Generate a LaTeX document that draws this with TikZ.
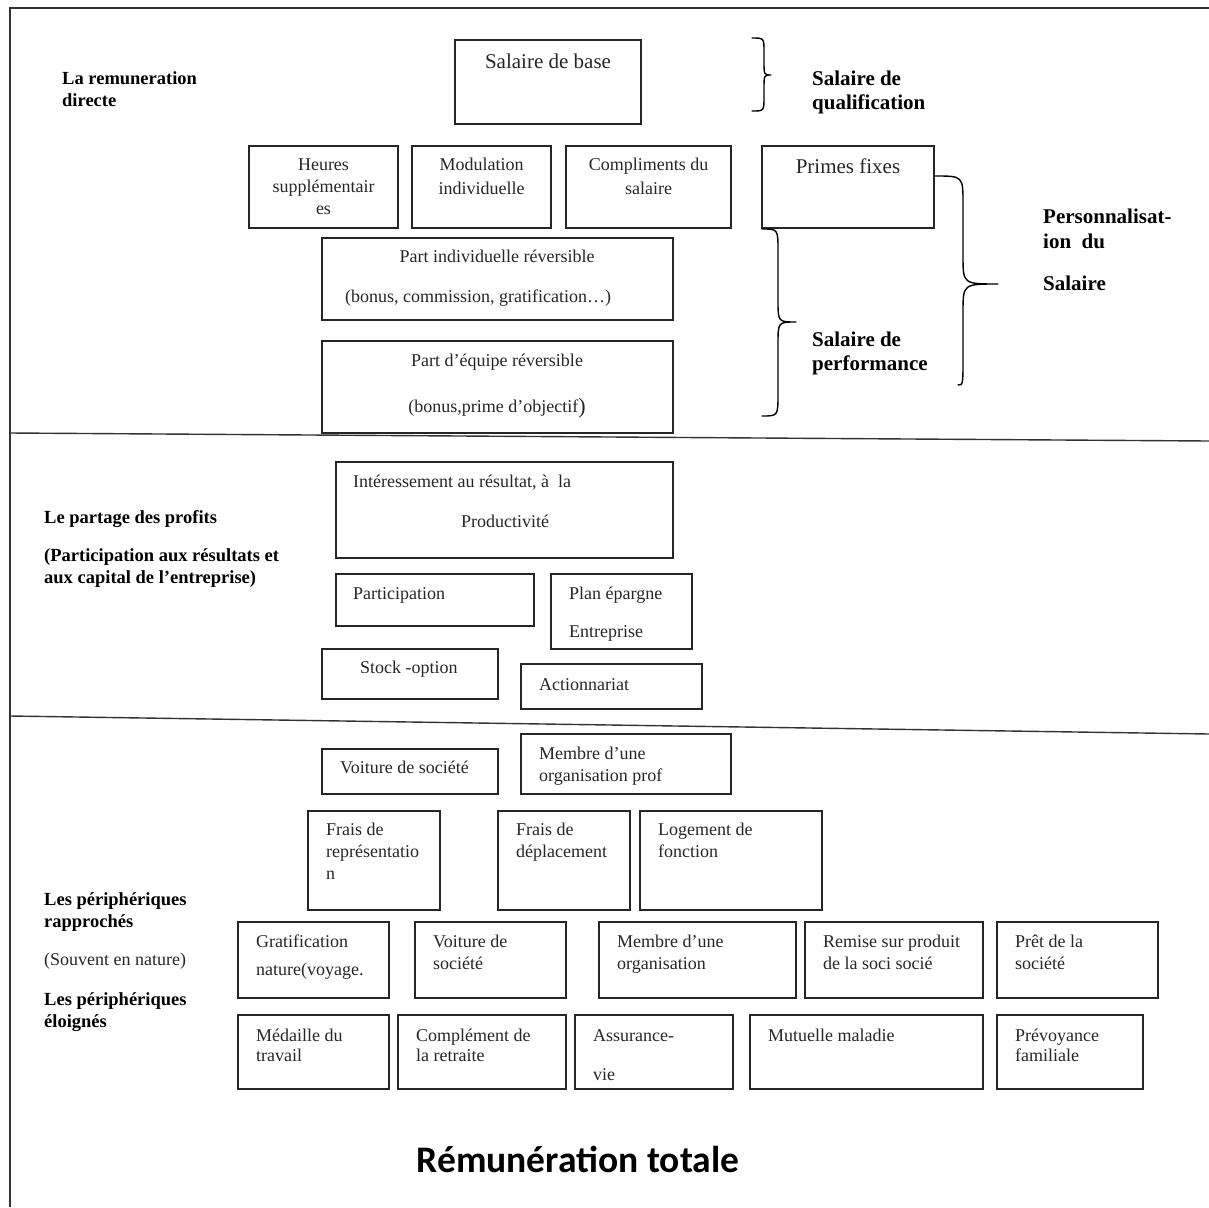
\documentclass[tikz,border=0pt]{standalone}
\usepackage{fontspec}
\setmainfont{Liberation Serif}
\newfontfamily\titlefont{Carlito}
\usetikzlibrary{fit}

% rectangle box from corner (#2,#3) to corner (#4,#5)
\newcommand\bx[5]{\node[box, fit={(#2,#3) (#4,#5)}] (#1) {};}
% one line of text, left aligned at (#3,#4)
\newcommand\tw[5]{\node[#1, anchor=mid west] (#2) at (#3,#4) {#5};}
% one line of text, centred at (#3,#4)
\newcommand\tc[5]{\node[#1, anchor=mid] (#2) at (#3,#4) {#5};}
% curly brace: top (#1,#2), spine x #3, corner radius #4, tip (#5,#6), bottom (#8,#7)
\newcommand\curly[8]{%
  \draw[brace] (#1,#2) .. controls (#3,#2) .. (#3,{#2+#4}) -- (#3,{#6-#4})
    .. controls (#3,#6) .. (#5,#6) .. controls (#3,#6) .. (#3,{#6+#4})
    -- (#3,{#7-#4}) .. controls (#3,#7) .. (#8,#7);}

\begin{document}
\begin{tikzpicture}[x=1pt,y=-1pt,
  frame/.style={line width=1.4pt, draw=black!80},
  box/.style={draw=black!85, line width=1.6pt, inner sep=0pt},
  words/.style={inner sep=0pt, yshift=-4pt},
  txt/.style={words, font=\fontsize{18}{21}\selectfont, text=black!85},
  big/.style={words, font=\fontsize{21}{24}\selectfont, text=black!85},
  lbl/.style={words, font=\bfseries\fontsize{18.5}{22}\selectfont},
  rlbl/.style={words, font=\bfseries\fontsize{21}{24}\selectfont},
  brace/.style={line width=1.4pt, line join=round, line cap=round}]

\useasboundingbox (0,0) rectangle (1209,1207);

% outer frame and section separators
\draw[frame] (1209,8) -- (10,8) -- (10,1207);
\draw[frame] (10,433) -- (1209,441);
\draw[frame] (10,716) -- (1209,734);

% ---------- direct pay ----------
\tw{lbl}{dir1}{62}{78}{La remuneration}
\tw{lbl}{dir2}{62}{100}{directe}

\bx{base}{455}{40}{641}{124}
\tc{big}{base-t}{548}{62}{Salaire de base}

\bx{heures}{249}{146}{398}{228}
\tc{txt}{heures-1}{323.5}{164}{Heures}
\tc{txt}{heures-2}{323.5}{186}{supplémentair}
\tc{txt}{heures-3}{323.5}{208}{es}

\bx{modul}{412}{146}{551}{228}
\tc{txt}{modul-1}{481.5}{164}{Modulation}
\tc{txt}{modul-2}{481.5}{188}{individuelle}

\bx{compl}{566}{146}{731}{228}
\tc{txt}{compl-1}{648.5}{164}{Compliments du}
\tc{txt}{compl-2}{648.5}{188}{salaire}

\bx{primes}{762}{146}{934}{228}
\tc{big}{primes-t}{848}{167}{Primes fixes}

\bx{partind}{322}{238}{673}{320}
\tc{txt}{partind-1}{497}{256}{Part individuelle réversible}
\tc{txt}{partind-2}{478}{296}{(bonus, commission, gratification…)}

\bx{partequ}{322}{341}{673}{433}
\tc{txt}{partequ-1}{497}{360}{Part d’équipe réversible}
\tc{txt}{partequ-2}{497}{406}{(bonus,prime d’objectif\raisebox{-1pt}{\fontsize{22}{22}\selectfont)}}

% braces and their labels
\curly{752}{38}{764}{14}{771}{75}{111}{752}
\tw{rlbl}{qual1}{812}{79}{Salaire de}
\tw{rlbl}{qual2}{812}{103}{qualification}

\curly{762}{229}{778}{22}{796}{322}{416}{762}
\tw{rlbl}{perf1}{812}{340}{Salaire de}
\tw{rlbl}{perf2}{812}{364}{performance}

\curly{935}{176}{963}{28}{998}{284}{385}{958}
\tw{rlbl}{pers1}{1043}{217}{Personnalisat-}
\tw{rlbl}{pers2}{1043}{242}{ion\ \ du}
\tw{rlbl}{pers3}{1043}{284}{Salaire}

% ---------- profit sharing ----------
\tw{lbl}{prof1}{44}{517}{Le partage des profits}
\tw{lbl}{prof2}{44}{555}{(Participation aux résultats et}
\tw{lbl}{prof3}{44}{577}{aux capital de l’entreprise)}

\bx{inter}{336}{462}{673}{558}
\tw{txt}{inter-1}{353}{481}{Intéressement au résultat, à\ \ la}
\tc{txt}{inter-2}{505}{521}{Productivité}

\bx{partic}{336}{574}{534}{626}
\tw{txt}{partic-t}{353}{593}{Participation}

\bx{plan}{551}{574}{692}{649}
\tw{txt}{plan-1}{569}{593}{Plan épargne}
\tw{txt}{plan-2}{569}{631}{Entreprise}

\bx{stock}{322}{649}{498}{699}
\tw{txt}{stock-t}{360}{667}{Stock -option}

\bx{action}{521}{664}{702}{709}
\tw{txt}{action-t}{539}{684}{Actionnariat}

% ---------- peripheral pay ----------
\tw{lbl}{peri1}{44}{899}{Les périphériques}
\tw{lbl}{peri2}{44}{921}{rapprochés}
\tw{txt}{peri3}{44}{959}{(Souvent en nature)}
\tw{lbl}{peri4}{44}{999}{Les périphériques}
\tw{lbl}{peri5}{44}{1021}{éloignés}

\bx{voit1}{322}{749}{498}{794}
\tw{txt}{voit1-t}{340}{767}{Voiture de société}

\bx{memb1}{521}{734}{731}{794}
\tw{txt}{memb1-1}{539}{753}{Membre d’une}
\tw{txt}{memb1-2}{539}{775}{organisation prof}

\bx{fraisrep}{308}{811}{440}{910}
\tw{txt}{fraisrep-1}{326}{829}{Frais de}
\tw{txt}{fraisrep-2}{326}{851}{représentatio}
\tw{txt}{fraisrep-3}{326}{873}{n}

\bx{fraisdep}{498}{811}{630}{910}
\tw{txt}{fraisdep-1}{516}{829}{Frais de}
\tw{txt}{fraisdep-2}{516}{851}{déplacement}

\bx{logement}{640}{811}{822}{910}
\tw{txt}{logement-1}{658}{829}{Logement de}
\tw{txt}{logement-2}{658}{851}{fonction}

\bx{grat}{238}{922}{389}{998}
\tw{txt}{grat-1}{256}{941}{Gratification}
\tw{txt}{grat-2}{256}{969}{nature(voyage.}

\bx{voit2}{415}{922}{566}{998}
\tw{txt}{voit2-1}{433}{941}{Voiture de}
\tw{txt}{voit2-2}{433}{963}{société}

\bx{memb2}{599}{922}{796}{998}
\tw{txt}{memb2-1}{617}{941}{Membre d’une}
\tw{txt}{memb2-2}{617}{963}{organisation}

\bx{remise}{805}{922}{983}{998}
\tw{txt}{remise-1}{823}{941}{Remise sur produit}
\tw{txt}{remise-2}{823}{963}{de la soci socié}

\bx{pret}{997}{922}{1158}{998}
\tw{txt}{pret-1}{1015}{941}{Prêt de la}
\tw{txt}{pret-2}{1015}{963}{société}

\bx{medaille}{238}{1015}{389}{1089}
\tw{txt}{medaille-1}{256}{1035}{Médaille du}
\tw{txt}{medaille-2}{256}{1055}{travail}

\bx{complret}{398}{1015}{566}{1089}
\tw{txt}{complret-1}{416}{1035}{Complément de}
\tw{txt}{complret-2}{416}{1055}{la retraite}

\bx{assur}{575}{1015}{733}{1089}
\tw{txt}{assur-1}{593}{1035}{Assurance-}
\tw{txt}{assur-2}{593}{1074}{vie}

\bx{mutuelle}{750}{1015}{983}{1089}
\tw{txt}{mutuelle-t}{768}{1035}{Mutuelle maladie}

\bx{prev}{997}{1015}{1143}{1089}
\tw{txt}{prev-1}{1015}{1035}{Prévoyance}
\tw{txt}{prev-2}{1015}{1055}{familiale}

% title
\node[inner sep=0pt, anchor=mid, font=\titlefont\bfseries\fontsize{37.5}{42}\selectfont] (title) at (578,1170) {Rémunération totale};

\end{tikzpicture}
\end{document}
